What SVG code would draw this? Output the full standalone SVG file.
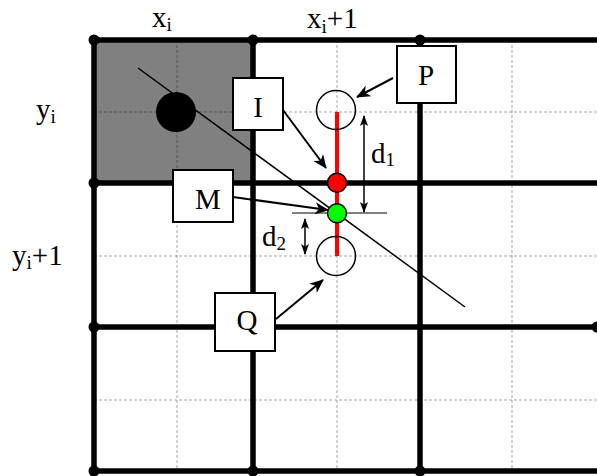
<svg xmlns="http://www.w3.org/2000/svg" width="597" height="476" viewBox="0 0 597 476">
<style>
.t{font-family:"Liberation Serif","Times New Roman",serif;font-size:29px;fill:#000}
.s{font-size:19px}
.grid{stroke:#000;stroke-width:5.5;fill:none}
.dash{stroke:#000;stroke-opacity:0.35;stroke-width:1;stroke-dasharray:3 2;fill:none}
.box{fill:#fff;stroke:#000;stroke-width:2}
.arr{stroke:#000;stroke-width:2;fill:none;marker-end:url(#ah)}
.darr{stroke:#000;stroke-width:1.5;fill:none;marker-end:url(#dh);marker-start:url(#dh)}
</style>
<defs>
<marker id="ah" markerUnits="userSpaceOnUse" markerWidth="14" markerHeight="12" viewBox="0 0 14 12" refX="13" refY="6" orient="auto">
<path d="M0,0 L14,6 L0,12 L4,6 Z" fill="#000"/>
</marker>
<marker id="dh" markerUnits="userSpaceOnUse" markerWidth="11" markerHeight="8" viewBox="0 0 11 8" refX="10" refY="4" orient="auto-start-reverse">
<path d="M0,0 L11,4 L0,8 L2.5,4 Z" fill="#000"/>
</marker>
</defs>
<rect width="597" height="476" fill="#fff"/>
<g id="shaded-cell">
<rect x="94" y="40" width="159" height="143" fill="#808080"/>
</g>
<g id="grid-minor">
<line class="dash" x1="177" y1="40" x2="177" y2="471"/>
<line class="dash" x1="337" y1="40" x2="337" y2="471"/>
<line class="dash" x1="512" y1="40" x2="512" y2="471"/>
<line class="dash" x1="94" y1="112" x2="597" y2="112"/>
<line class="dash" x1="94" y1="256" x2="597" y2="256"/>
<line class="dash" x1="94" y1="400" x2="597" y2="400"/>
</g>
<g id="grid-major">
<line class="grid" x1="94" y1="40" x2="597" y2="40"/>
<line class="grid" x1="94" y1="183" x2="597" y2="183"/>
<line class="grid" x1="94" y1="327" x2="597" y2="327"/>
<line class="grid" x1="94" y1="471" x2="597" y2="471"/>
<line class="grid" x1="94" y1="40" x2="94" y2="471"/>
<line class="grid" x1="253" y1="40" x2="253" y2="471"/>
<line class="grid" x1="420" y1="40" x2="420" y2="471"/>
<g fill="#000">
<circle cx="94" cy="40" r="5.5"/><circle cx="253" cy="40" r="5.5"/><circle cx="420" cy="40" r="5.5"/>
<circle cx="94" cy="183" r="5.5"/><circle cx="94" cy="327" r="5.5"/><circle cx="94" cy="471" r="5.5"/>
<circle cx="253" cy="471" r="5.5"/><circle cx="420" cy="471" r="5.5"/><circle cx="597" cy="327" r="5.5"/>
</g>
</g>
<g id="pixel">
<circle cx="176" cy="112" r="20" fill="#000"/>
</g>
<g id="line">
<line x1="138" y1="68" x2="465" y2="307" stroke="#000" stroke-width="1.5"/>
</g>
<g id="candidates">
<line x1="337" y1="112" x2="337" y2="256" stroke="#f00" stroke-width="4"/>
<circle id="P-circle" cx="336" cy="110" r="19.5" fill="none" stroke="#000" stroke-width="1.5"/>
<circle id="Q-circle" cx="336" cy="256" r="19.5" fill="none" stroke="#000" stroke-width="1.5"/>
<line x1="292" y1="213" x2="387" y2="213" stroke="#000" stroke-width="1"/>
</g>
<g id="I-point"><circle cx="337" cy="182.7" r="9.5" fill="#f00" stroke="#000" stroke-width="1.5"/></g>
<g id="M-point"><circle cx="337" cy="213.3" r="9.5" fill="#0f0" stroke="#000" stroke-width="1.5"/></g>
<g id="connectors">
<line class="arr" x1="283" y1="110" x2="326" y2="168"/>
<line class="arr" x1="393" y1="78" x2="357" y2="97"/>
<line class="arr" x1="233" y1="197" x2="328" y2="210"/>
<line class="arr" x1="276" y1="319" x2="323" y2="280"/>
<line class="darr" x1="364" y1="116" x2="364" y2="212"/>
<line class="darr" x1="305" y1="219" x2="305" y2="254"/>
</g>
<g id="I"><rect class="box" x="233" y="78" width="50" height="52"/><text class="t" x="258" y="117" text-anchor="middle">I</text></g>
<g id="P"><rect class="box" x="397" y="46" width="59" height="57"/><text class="t" x="426" y="85" text-anchor="middle">P</text></g>
<g id="M"><rect class="box" x="173" y="170" width="60" height="52"/><text class="t" x="208" y="209" text-anchor="middle">M</text></g>
<g id="Q"><rect class="box" x="215" y="293" width="60" height="58"/><text class="t" x="247" y="330" text-anchor="middle">Q</text></g>
<g id="labels">
<text class="t" x="152" y="27">x<tspan class="s" dy="4">i</tspan></text>
<text class="t" x="307" y="28">x<tspan class="s" dy="5">i</tspan><tspan dy="-5">+1</tspan></text>
<text class="t" x="36" y="119">y<tspan class="s" dy="4">i</tspan></text>
<text class="t" x="12" y="265">y<tspan class="s" dy="4">i</tspan><tspan dy="-4">+1</tspan></text>
<text class="t" x="371" y="163">d<tspan class="s" dy="3">1</tspan></text>
<text class="t" x="262" y="246">d<tspan class="s" dy="4">2</tspan></text>
</g>
</svg>
